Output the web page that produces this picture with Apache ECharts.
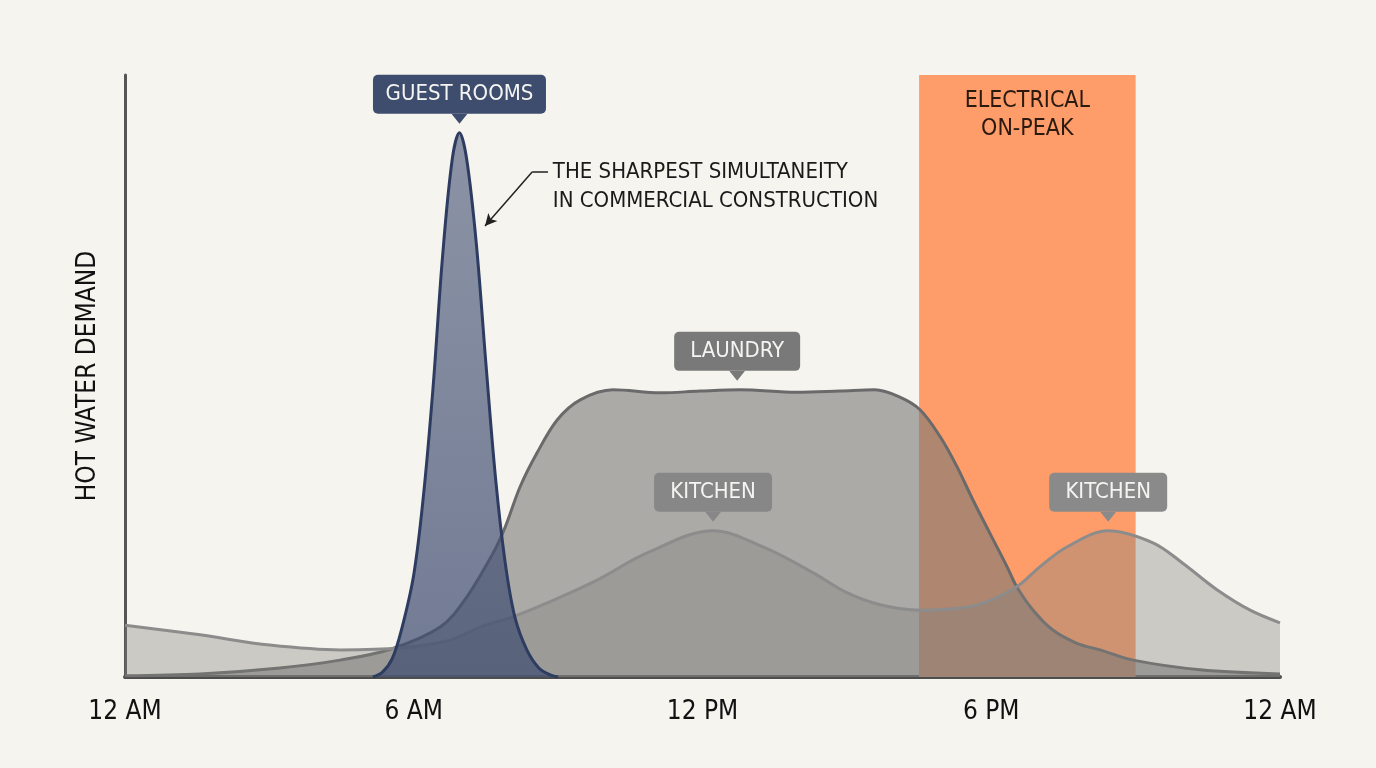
<!DOCTYPE html>
<html>
<head>
<meta charset="utf-8">
<script src="https://cdn.jsdelivr.net/npm/echarts@6/dist/echarts.min.js"></script>
<style>
  html, body { margin: 0; padding: 0; background: #f6f4ee; }
  #chart { width: 1376px; height: 768px; }
</style>
</head>
<body>
<div id="chart"></div>
<script>
// hour of day (0-24) and relative demand (0-100)
var guestHours  = [5.15, 5.35, 5.55, 5.75, 6.0, 6.2, 6.4, 6.6, 6.8, 6.95, 7.1, 7.3, 7.5, 7.7, 7.9, 8.1, 8.35, 8.6, 8.85, 9.0];
var guestDemand = [0, 0.8, 3, 8, 17, 30, 48, 70, 86, 90.4, 86, 72, 52, 33, 19, 10, 4.5, 1.5, 0.3, 0];

var laundryHours  = [0, 1.56, 3.22, 4.47, 5.55, 6.55, 7.06, 7.65, 7.9, 8.21, 8.56, 8.98, 9.45, 10.14, 11.12, 11.95, 12.78, 13.96, 14.86, 15.58, 16.1, 16.52, 16.94, 17.29, 17.62, 17.97, 18.33, 18.53, 18.87, 19.28, 19.78, 20.26, 20.95, 22.34, 24];
var laundryDemand = [0.2, 0.5, 1.5, 2.8, 4.7, 8.3, 12.8, 20.6, 24.9, 31.6, 37.2, 42.7, 46.0, 47.7, 47.2, 47.5, 47.7, 47.3, 47.5, 47.7, 46.5, 44.4, 39.9, 34.9, 29.4, 23.9, 18.3, 15.0, 11.1, 7.8, 5.6, 4.5, 2.8, 1.2, 0.5];

var kitchenHours  = [0, 1.56, 3.01, 4.47, 5.71, 6.75, 7.38, 8.06, 8.77, 9.81, 10.85, 12.22, 13.26, 14.3, 15.0, 15.69, 16.52, 17.14, 17.77, 18.53, 19.01, 19.57, 20.43, 21.36, 21.98, 22.69, 23.38, 24];
var kitchenDemand = [8.6, 7.0, 5.3, 4.5, 4.8, 6.1, 8.3, 10.0, 12.3, 16.1, 20.6, 24.3, 21.6, 17.3, 14.0, 12.0, 11.1, 11.3, 12.1, 15.0, 18.3, 21.6, 24.3, 22.3, 18.9, 14.5, 11.1, 9.0];

var onPeakHours = [16.5, 21];
var tickLabels = ['12 AM', '6 AM', '12 PM', '6 PM', '12 AM'];

var FONT = "'Liberation Sans Narrow', 'DejaVu Sans Condensed', sans-serif";

function pairs(xs, ys) {
    return xs.map(function (x, i) { return [x, ys[i]]; });
}

function peakOf(xs, ys, from, to) {
    var best = null;
    xs.forEach(function (x, i) {
        if (x >= from && x <= to && (!best || ys[i] > best[1])) best = [x, ys[i]];
    });
    return best;
}

// callout box with a small pointer under it
function callout(name, coord, bg, width) {
    return {
        name: name,
        coord: coord,
        symbol: 'path://M0,0 L16,0 L8,10 Z',
        symbolSize: [16, 10],
        symbolOffset: [0, -14],
        itemStyle: { color: bg },
        label: {
            show: true,
            position: 'top',
            distance: 0,
            formatter: name,
            backgroundColor: bg,
            borderRadius: 5,
            width: width,
            align: 'center',
            padding: [8, 14],
            lineHeight: 23,
            fontSize: 22,
            fontFamily: FONT,
            color: '#f4f4f2'
        }
    };
}

var myChart = echarts.init(document.getElementById('chart'));

var guestPeak = peakOf(guestHours, guestDemand, 0, 24);
var kitchenPeak1 = peakOf(kitchenHours, kitchenDemand, 8, 16);
var kitchenPeak2 = peakOf(kitchenHours, kitchenDemand, 16, 24);

var option = {
    backgroundColor: '#f6f4ee',
    animation: false,
    grid: { left: 125, right: 96, top: 75, bottom: 91 },
    xAxis: {
        type: 'value',
        min: 0,
        max: 24,
        interval: 6,
        axisLine: { lineStyle: { color: '#4d4d4d', width: 4 } },
        axisTick: { show: false },
        splitLine: { show: false },
        axisLabel: {
            margin: 22,
            fontSize: 26,
            fontFamily: FONT,
            color: '#111',
            formatter: function (v) { return tickLabels[v / 6]; }
        }
    },
    yAxis: {
        type: 'value',
        min: 0,
        max: 100,
        name: 'HOT WATER DEMAND',
        nameLocation: 'middle',
        nameGap: 24,
        nameTextStyle: { fontSize: 26, fontFamily: FONT, color: '#111' },
        axisLine: { show: true, lineStyle: { color: '#555', width: 3 } },
        axisTick: { show: false },
        axisLabel: { show: false },
        splitLine: { show: false }
    },
    series: [
        {
            // on-peak band, kept behind the curves
            name: 'on-peak',
            type: 'line',
            z: 1,
            data: [],
            markArea: {
                silent: true,
                itemStyle: { color: '#fe9d6a' },
                label: {
                    show: true,
                    position: 'insideTop',
                    distance: 12,
                    formatter: 'ELECTRICAL\nON-PEAK',
                    fontSize: 23,
                    lineHeight: 28,
                    fontFamily: FONT,
                    color: '#2a1a10'
                },
                data: [[{ xAxis: onPeakHours[0], yAxis: 0 }, { xAxis: onPeakHours[1], yAxis: 100 }]]
            }
        },
        {
            name: 'Laundry',
            type: 'line',
            z: 2,
            smooth: 0.35,
            showSymbol: false,
            data: pairs(laundryHours, laundryDemand),
            lineStyle: { color: '#6a6a6a', width: 3 },
            areaStyle: { color: 'rgba(118,118,116,0.58)', opacity: 1 },
            markPoint: {
                data: [callout('LAUNDRY', [12.72, 47.7], '#797979', 98)]
            }
        },
        {
            name: 'Kitchen',
            type: 'line',
            z: 3,
            smooth: 0.35,
            showSymbol: false,
            data: pairs(kitchenHours, kitchenDemand),
            lineStyle: { color: '#8c8c8c', width: 3 },
            areaStyle: { color: 'rgba(130,130,128,0.37)', opacity: 1 },
            markPoint: {
                data: [
                    callout('KITCHEN', kitchenPeak1, '#878787', 90),
                    callout('KITCHEN', kitchenPeak2, '#8a8a8a', 90)
                ]
            }
        },
        {
            name: 'Guest Rooms',
            type: 'line',
            z: 4,
            smooth: 0.35,
            showSymbol: false,
            data: pairs(guestHours, guestDemand),
            lineStyle: { color: '#2d3c60', width: 3 },
            areaStyle: {
                opacity: 1,
                color: new echarts.graphic.LinearGradient(0, 0, 0, 1, [
                    { offset: 0, color: 'rgba(84,96,128,0.66)' },
                    { offset: 1, color: 'rgba(62,76,112,0.72)' }
                ])
            },
            markPoint: {
                data: [
                    callout('GUEST ROOMS', guestPeak, '#3e4d6d', 145),
                    {
                        name: 'note',
                        coord: [8.89, 81.5],
                        symbol: 'circle',
                        symbolSize: 0,
                        label: {
                            show: true,
                            position: 'right',
                            distance: 0,
                            formatter: 'THE SHARPEST SIMULTANEITY\nIN COMMERCIAL CONSTRUCTION',
                            fontSize: 22,
                            lineHeight: 29,
                            fontFamily: FONT,
                            color: '#1a1a1a'
                        }
                    }
                ]
            },
            markLine: {
                silent: true,
                symbol: ['none', 'arrow'],
                symbolSize: [9, 12],
                lineStyle: { color: '#222', width: 1.5, type: 'solid' },
                label: { show: false },
                data: [
                    [{ coord: [8.79, 83.9], symbol: 'none' }, { coord: [8.46, 83.9], symbol: 'none' }],
                    [{ coord: [8.46, 83.9] }, { coord: [7.48, 74.9] }]
                ]
            }
        }
    ]
};

myChart.setOption(option);
</script>
</body>
</html>
